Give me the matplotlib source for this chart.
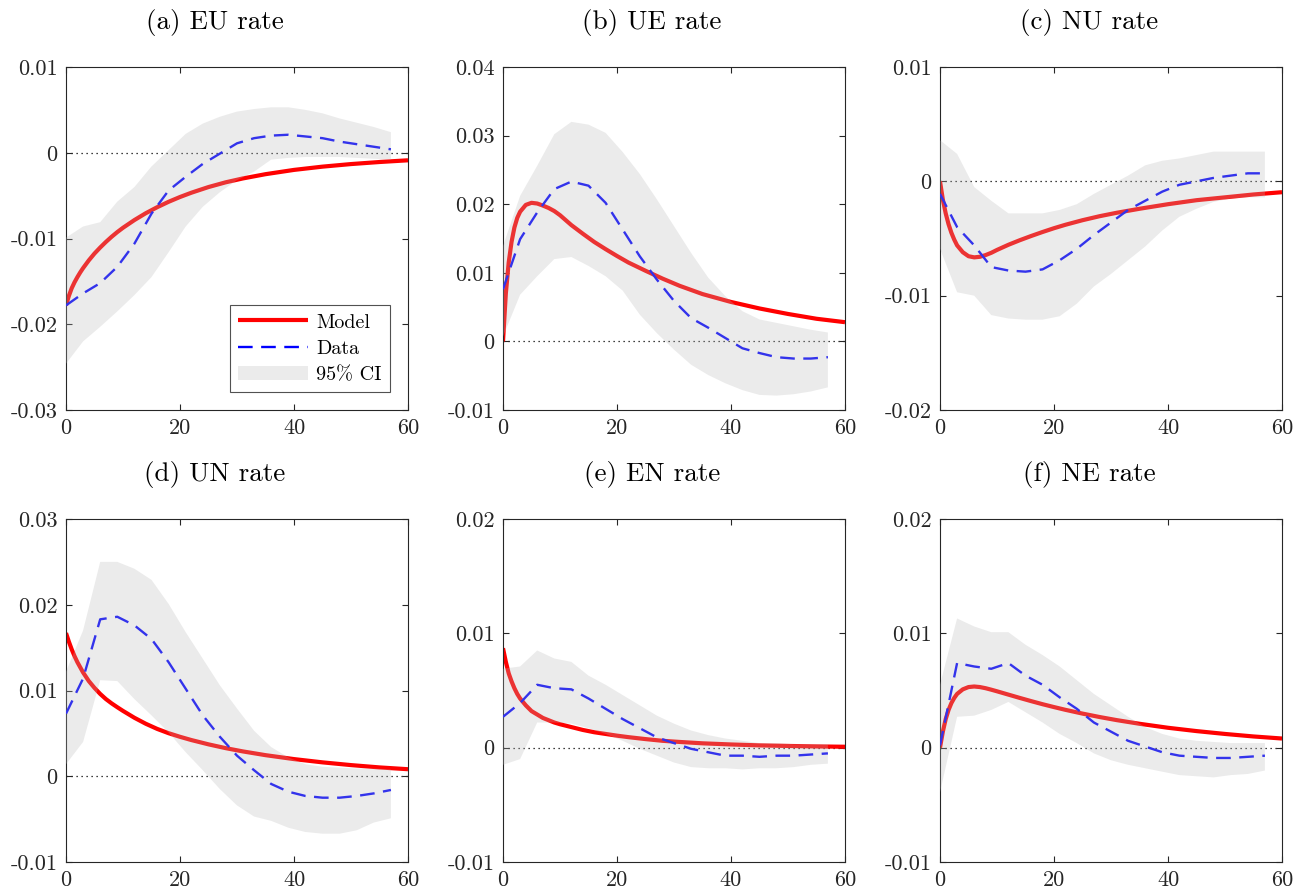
import matplotlib
matplotlib.use("Agg")
import matplotlib.pyplot as plt
import numpy as np

plt.rcParams['font.family'] = ['cmr10', 'DejaVu Serif']
plt.rcParams['mathtext.fontset'] = 'cm'
plt.rcParams['axes.unicode_minus'] = False

# ---------------- data ----------------
titles = ['(a) EU rate', '(b) UE rate', '(c) NU rate',
          '(d) UN rate', '(e) EN rate', '(f) NE rate']

# model horizon (months)
model_x = [0, 0.5, 1, 1.5, 2, 2.5, 3, 4, 5, 6, 7, 8, 9, 10, 12, 14, 16, 18, 20,
           22, 25, 28, 31, 35, 40, 45, 50, 55, 60]

model_eu = [-0.0178, -0.0167, -0.0158, -0.0151, -0.0145, -0.01395, -0.01345, -0.01255,
            -0.01175, -0.01105, -0.0104, -0.0098, -0.00925, -0.00875, -0.00785, -0.00705,
            -0.00635, -0.00572, -0.00516, -0.00466, -0.0040, -0.00345, -0.0030, -0.0025,
            -0.0020, -0.00162, -0.00132, -0.00108, -0.00088]
model_ue = [0.0, 0.0070, 0.0115, 0.0145, 0.0166, 0.0180, 0.0189, 0.0199, 0.0202,
            0.0201, 0.0198, 0.01945, 0.0190, 0.0184, 0.01695, 0.0157, 0.0145, 0.01345,
            0.01245, 0.0115, 0.0103, 0.00915, 0.0081, 0.0069, 0.00575, 0.0048, 0.0040,
            0.0033, 0.0028]
model_nu = [0.0, -0.0016, -0.0028, -0.00375, -0.0045, -0.0051, -0.0056, -0.0062,
            -0.00655, -0.00665, -0.0066, -0.00645, -0.00625, -0.0060, -0.00555, -0.00515,
            -0.00478, -0.00443, -0.0041, -0.0038, -0.0034, -0.00305, -0.00275, -0.0024,
            -0.0020, -0.00165, -0.0014, -0.00115, -0.00095]
model_un = [0.0167, 0.0157, 0.0148, 0.0140, 0.0133, 0.0127, 0.0121, 0.0111, 0.0103,
            0.0096, 0.0090, 0.0085, 0.00805, 0.00762, 0.00682, 0.00612, 0.00552, 0.00502,
            0.0046, 0.00422, 0.00372, 0.00328, 0.0029, 0.00246, 0.0020, 0.00162, 0.0013,
            0.00103, 0.00082]
model_en = [0.0087, 0.0075, 0.0065, 0.0058, 0.0052, 0.0047, 0.0043, 0.0037, 0.0032,
            0.0029, 0.0026, 0.0024, 0.0022, 0.00205, 0.0018, 0.00155, 0.00135, 0.0012,
            0.00105, 0.00092, 0.00075, 0.0006, 0.0005, 0.00038, 0.00028, 0.0002,
            0.00015, 0.00011, 0.00008]
model_ne = [0.0, 0.0014, 0.0025, 0.0033, 0.0039, 0.00435, 0.0047, 0.0051, 0.0053,
            0.00535, 0.0053, 0.0052, 0.00507, 0.00493, 0.00464, 0.00435, 0.00407, 0.0038,
            0.00355, 0.00331, 0.00298, 0.00268, 0.00241, 0.00209, 0.00174, 0.00145,
            0.0012, 0.00098, 0.0008]

# data horizon (months, quarterly steps)
data_x = [0, 3, 6, 9, 12, 15, 18, 21, 24, 27, 30, 33, 36, 39, 42, 45, 48, 51, 54, 57]

data_eu = [-0.0178, -0.0164, -0.0152, -0.0133, -0.0106, -0.0071, -0.0044, -0.0028,
           -0.0013, -0.0001, 0.0011, 0.0017, 0.0020, 0.0021, 0.0019, 0.0017, 0.0013,
           0.0010, 0.0007, 0.0004]
ci_lo_eu = [-0.0246, -0.0220, -0.0203, -0.0185, -0.0166, -0.0145, -0.0116, -0.0086,
            -0.0063, -0.0046, -0.0032, -0.0022, -0.0008, -0.0006, -0.0005, -0.0005,
            -0.0005, -0.0006, -0.0007, -0.0008]
ci_hi_eu = [-0.0099, -0.0086, -0.0081, -0.0057, -0.0040, -0.0016, 0.0003, 0.0022,
            0.0034, 0.0042, 0.0048, 0.0051, 0.0053, 0.0053, 0.0050, 0.0046, 0.0040,
            0.0035, 0.0030, 0.0024]

data_ue = [0.0076, 0.0149, 0.0188, 0.0222, 0.0233, 0.0227, 0.0202, 0.0163, 0.0124,
           0.0090, 0.0059, 0.0034, 0.0020, 0.0005, -0.0010, -0.0017, -0.0023, -0.0025,
           -0.0025, -0.0023]
ci_lo_ue = [0.0007, 0.0068, 0.0095, 0.0120, 0.0123, 0.0110, 0.0095, 0.0074, 0.0039,
            0.0012, -0.0012, -0.0034, -0.0049, -0.0061, -0.0071, -0.0078, -0.0079,
            -0.0077, -0.0073, -0.0067]
ci_hi_ue = [0.0139, 0.0212, 0.0256, 0.0302, 0.0320, 0.0316, 0.0304, 0.0276, 0.0244,
            0.0207, 0.0168, 0.0129, 0.0093, 0.0066, 0.0044, 0.0032, 0.0027, 0.0022,
            0.0017, 0.0013]

data_nu = [-0.0011, -0.0040, -0.0056, -0.0075, -0.0078, -0.0079, -0.0077, -0.0069,
           -0.0059, -0.0047, -0.0036, -0.0025, -0.0017, -0.0009, -0.0003, 0.0000,
           0.0003, 0.0005, 0.0007, 0.0007]
ci_lo_nu = [-0.0059, -0.0097, -0.0100, -0.0117, -0.0120, -0.0121, -0.0121, -0.0118,
            -0.0107, -0.0092, -0.0081, -0.0069, -0.0057, -0.0043, -0.0031, -0.0024,
            -0.0018, -0.0015, -0.0014, -0.0014]
ci_hi_nu = [0.0036, 0.0024, -0.0005, -0.0017, -0.0028, -0.0028, -0.0028, -0.0025,
            -0.0020, -0.0011, -0.0003, 0.0005, 0.0014, 0.0018, 0.0020, 0.0023, 0.0026,
            0.0026, 0.0026, 0.0026]

data_un = [0.0073, 0.0114, 0.0183, 0.0186, 0.0176, 0.0160, 0.0133, 0.0102, 0.0071,
           0.0046, 0.0024, 0.0007, -0.0009, -0.0018, -0.0023, -0.0025, -0.0025, -0.0023,
           -0.0020, -0.0016]
ci_lo_un = [0.0014, 0.0040, 0.0112, 0.0111, 0.0090, 0.0071, 0.0051, 0.0028, 0.0007,
            -0.0015, -0.0034, -0.0047, -0.0052, -0.0060, -0.0065, -0.0067, -0.0067,
            -0.0063, -0.0054, -0.0049]
ci_hi_un = [0.0122, 0.0170, 0.0250, 0.0250, 0.0242, 0.0229, 0.0201, 0.0168, 0.0137,
            0.0106, 0.0079, 0.0053, 0.0034, 0.0022, 0.0014, 0.0011, 0.0010, 0.0009,
            0.0009, 0.0008]

data_en = [0.0027, 0.0039, 0.0055, 0.0052, 0.0051, 0.0043, 0.0034, 0.0025, 0.0017,
           0.0009, 0.0004, -0.0001, -0.0004, -0.0007, -0.0007, -0.0008, -0.0007,
           -0.0007, -0.0006, -0.0005]
ci_lo_en = [-0.0015, -0.0010, 0.0022, 0.0022, 0.0021, 0.0017, 0.0012, 0.0006, -0.0001,
            -0.0007, -0.0013, -0.0017, -0.0018, -0.0018, -0.0019, -0.0018, -0.0018,
            -0.0017, -0.0015, -0.0014]
ci_hi_en = [0.0069, 0.0071, 0.0085, 0.0078, 0.0075, 0.0063, 0.0055, 0.0046, 0.0037,
            0.0028, 0.0021, 0.0015, 0.0011, 0.0008, 0.0006, 0.0004, 0.0004, 0.0003,
            0.0003, 0.0003]

data_ne = [0.0002, 0.0074, 0.0071, 0.0069, 0.0074, 0.0063, 0.0055, 0.0044, 0.0034,
           0.0022, 0.0014, 0.0006, 0.0001, -0.0004, -0.0007, -0.0008, -0.0009, -0.0009,
           -0.0008, -0.0007]
ci_lo_ne = [-0.0039, 0.0027, 0.0028, 0.0033, 0.0040, 0.0031, 0.0022, 0.0012, 0.0004,
            -0.0005, -0.0011, -0.0015, -0.0018, -0.0021, -0.0024, -0.0025, -0.0026,
            -0.0024, -0.0023, -0.0020]
ci_hi_ne = [0.0055, 0.0113, 0.0106, 0.0101, 0.0101, 0.0090, 0.0081, 0.0071, 0.0059,
            0.0047, 0.0037, 0.0027, 0.0018, 0.0012, 0.0008, 0.0006, 0.0005, 0.0004,
            0.0004, 0.0004]

models = [model_eu, model_ue, model_nu, model_un, model_en, model_ne]
datas = [data_eu, data_ue, data_nu, data_un, data_en, data_ne]
ci_los = [ci_lo_eu, ci_lo_ue, ci_lo_nu, ci_lo_un, ci_lo_en, ci_lo_ne]
ci_his = [ci_hi_eu, ci_hi_ue, ci_hi_nu, ci_hi_un, ci_hi_en, ci_hi_ne]

y_ticks = [[-0.03, -0.02, -0.01, 0, 0.01],
           [-0.01, 0, 0.01, 0.02, 0.03, 0.04],
           [-0.02, -0.01, 0, 0.01],
           [-0.01, 0, 0.01, 0.02, 0.03],
           [-0.01, 0, 0.01, 0.02],
           [-0.01, 0, 0.01, 0.02]]
y_ticklabels = [['-0.03', '-0.02', '-0.01', '0', '0.01'],
                ['-0.01', '0', '0.01', '0.02', '0.03', '0.04'],
                ['-0.02', '-0.01', '0', '0.01'],
                ['-0.01', '0', '0.01', '0.02', '0.03'],
                ['-0.01', '0', '0.01', '0.02'],
                ['-0.01', '0', '0.01', '0.02']]
x_ticks = [0, 20, 40, 60]
x_ticklabels = ['0', '20', '40', '60']

# ---------------- figure ----------------
W, H = 1297, 890
fig = plt.figure(figsize=(W / 100, H / 100), dpi=100)

lefts = [66, 503, 940]
tops = [67, 519]
aw, ah = 342, 343
axc = '#262626'

for i in range(6):
    r, c = divmod(i, 3)
    ax = fig.add_axes([lefts[c] / W, 1 - (tops[r] + ah) / H, aw / W, ah / H])
    ax.axhline(0, color='black', lw=0.9, ls=(0, (1, 3)), zorder=1)
    l1, = ax.plot(model_x, models[i], color=(1, 0, 0), lw=3.0, zorder=2,
                  solid_capstyle='butt', solid_joinstyle='round', label='Model')
    l2, = ax.plot(data_x, datas[i], color=(0, 0, 1), lw=1.7, ls=(0, (6.2, 3.6)),
                  zorder=3, label='Data')
    f = ax.fill_between(data_x, ci_los[i], ci_his[i], facecolor=(0.72, 0.72, 0.72),
                        alpha=0.28, edgecolor='none', lw=0, zorder=4, label='95% CI')
    ax.set_xlim(0, 60)
    ax.set_ylim(y_ticks[i][0], y_ticks[i][-1])
    ax.set_xticks(x_ticks, x_ticklabels)
    ax.set_yticks(y_ticks[i], y_ticklabels[i])
    ax.tick_params(direction='in', length=4, width=0.8, colors=axc, labelsize=16,
                   top=True, right=True, pad=6)
    for s in ax.spines.values():
        s.set_color(axc)
        s.set_linewidth(0.8)
    ax.set_title(titles[i], fontsize=19.5, pad=27, color='black', x=0.436)
    if i == 0:
        leg = ax.legend(handles=[l1, l2, f], loc='lower right', fontsize=14.5,
                        frameon=True, fancybox=False, edgecolor=axc,
                        handlelength=3.5, borderaxespad=0.9, labelspacing=0.4,
                        handletextpad=0.4, borderpad=0.4)
        leg.get_frame().set_linewidth(0.8)

fig.savefig('out.png', dpi=100)
